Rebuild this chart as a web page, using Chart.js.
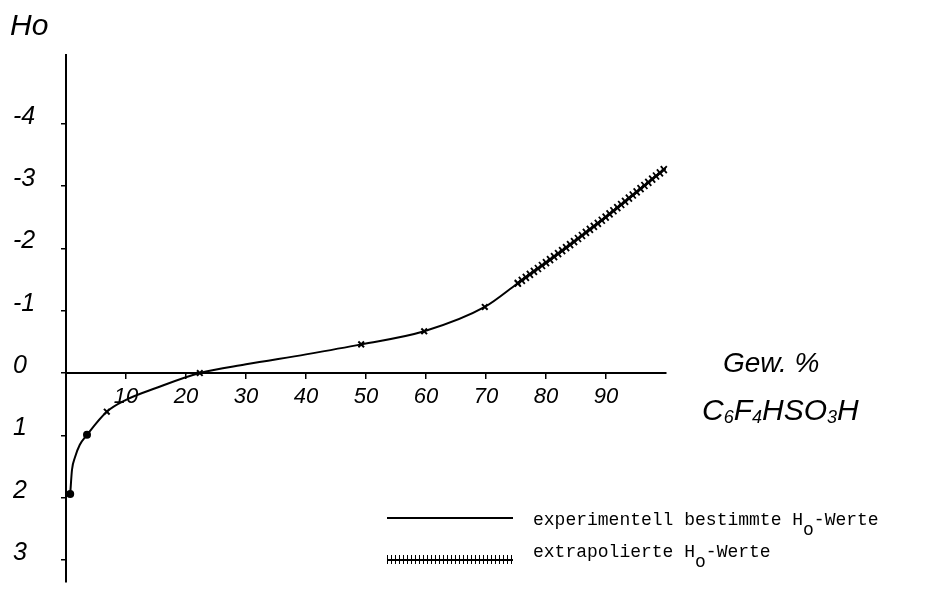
<!DOCTYPE html>
<html>
<head>
<meta charset="utf-8">
<script src="https://cdn.jsdelivr.net/npm/chart.js@4"></script>
<style>
  body { margin: 0; background: #fff; }
  #wrap { position: relative; width: 940px; height: 589px; }
  .lbl { position: absolute; font-family: "Liberation Sans", sans-serif; font-style: italic; line-height: 1; color: #000; white-space: nowrap; }
  .lbl sub { font-size: 60%; vertical-align: -0.15em; }
  .leg { position: absolute; font-family: "Liberation Mono", monospace; font-size: 18px; line-height: 1; color: #000; white-space: nowrap; }
  .leg sub { font-size: 100%; vertical-align: -0.55em; line-height: 0; }
  .sample { position: absolute; left: 387px; width: 126px; }
</style>
</head>
<body>
<div id="wrap">
  <canvas id="hoChart" width="940" height="589"></canvas>
  <div class="lbl" style="left:10px; top:10px; font-size:30px;">Ho</div>
  <div class="lbl" style="left:723px; top:349px; font-size:28px;">Gew. %</div>
  <div class="lbl" style="left:702px; top:395px; font-size:30px;">C<sub>6</sub>F<sub>4</sub>HSO<sub>3</sub>H</div>
  <div class="sample" style="top:517px; height:0; border-top:2px solid #000;"></div>
  <div class="sample" style="top:555px; height:9px; background:
      linear-gradient(#000, #000) 0 3.5px / 100% 2px no-repeat,
      repeating-linear-gradient(90deg, #000 0 1.5px, transparent 1.5px 4px);"></div>
  <div class="leg" style="left:533px; top:511px;">experimentell bestimmte H<sub>o</sub>-Werte</div>
  <div class="leg" style="left:533px; top:543px;">extrapolierte H<sub>o</sub>-Werte</div>
</div>
<script>
// experimentell bestimmte Werte (Gew.% C6F4HSO3H, Ho)
const expPct = [0.7, 1.0, 1.5, 2.3, 3.5, 6.8, 10, 15, 22.3, 30, 40, 49.2, 59.7, 69.8, 75.3];
const expHo = [1.94, 1.55, 1.35, 1.15, 0.99, 0.62, 0.43, 0.24, 0, -0.14, -0.3, -0.46, -0.67, -1.06, -1.44];
const expMark = ['circle', null, null, null, 'circle', 'crossRot', null, null, 'crossRot', null, null, 'crossRot', 'crossRot', 'crossRot', 'crossRot'];

// extrapolierte Werte
const extPct = [75.3, 82.8, 89.3, 100];
const extHo = [-1.44, -1.97, -2.45, -3.29];

const xTicks = [10, 20, 30, 40, 50, 60, 70, 80, 90];
const yTicks = [-4, -3, -2, -1, 0, 1, 2, 3];

const handFont = { family: '"Liberation Sans", sans-serif', style: 'italic' };

// little crosses along the extrapolated curve
const hatchPlugin = {
    id: 'hatch',
    afterDatasetsDraw(chart) {
        const pts = chart.getDatasetMeta(1).data;
        const ctx = chart.ctx;
        ctx.save();
        ctx.strokeStyle = '#000';
        ctx.lineWidth = 1.8;
        let carry = 0;
        for (let i = 0; i < pts.length - 1; i++) {
            const a = pts[i], b = pts[i + 1];
            const dx = b.x - a.x, dy = b.y - a.y;
            const len = Math.hypot(dx, dy);
            for (let d = carry; d <= len; d += 5) {
                const px = a.x + dx * d / len, py = a.y + dy * d / len;
                ctx.beginPath();
                ctx.moveTo(px - 3, py - 3.5); ctx.lineTo(px + 3, py + 3.5);
                ctx.moveTo(px - 3, py + 3.5); ctx.lineTo(px + 3, py - 3.5);
                ctx.stroke();
                carry = d + 5 - len;
            }
        }
        ctx.restore();
    }
};

new Chart(document.getElementById('hoChart'), {
    type: 'line',
    data: {
        datasets: [{
            data: expPct.map((x, i) => ({ x: x, y: expHo[i] })),
            borderColor: '#000',
            borderWidth: 2,
            cubicInterpolationMode: 'monotone',
            pointStyle: expMark.map(s => s || 'circle'),
            pointRadius: expMark.map(s => s ? (s === 'circle' ? 3 : 4) : 0),
            pointBackgroundColor: '#000',
            pointBorderColor: '#000',
            pointBorderWidth: 2
        }, {
            data: extPct.map((x, i) => ({ x: x, y: extHo[i] })),
            borderColor: '#000',
            borderWidth: 2.5,
            cubicInterpolationMode: 'monotone',
            pointRadius: 0
        }]
    },
    options: {
        responsive: false,
        animation: false,
        events: [],
        layout: { padding: { left: 13, right: 274, top: 55, bottom: 7 } },
        plugins: { legend: { display: false }, tooltip: { enabled: false } },
        scales: {
            x: {
                type: 'linear',
                position: { y: 0 },
                min: 0,
                max: 100,
                afterBuildTicks: s => { s.ticks = xTicks.map(v => ({ value: v })); },
                afterFit: s => { s.height = 0; s.paddingLeft = 0; s.paddingRight = 0; },
                border: { display: true, color: '#000', width: 2 },
                grid: { drawOnChartArea: false, drawTicks: true, tickLength: 5, color: '#000', lineWidth: 1.5 },
                ticks: { color: '#000', font: { ...handFont, size: 22 }, padding: 6, maxRotation: 0 }
            },
            y: {
                type: 'linear',
                reverse: true,
                min: -5.1,
                max: 3.35,
                afterBuildTicks: s => { s.ticks = yTicks.map(v => ({ value: v })); },
                afterFit: s => { s.width = 53; s.paddingTop = 0; s.paddingBottom = 0; },
                border: { display: true, color: '#000', width: 2 },
                grid: { drawOnChartArea: false, drawTicks: true, tickLength: 5, color: '#000', lineWidth: 1.5 },
                ticks: {
                    color: '#000',
                    font: { ...handFont, size: 25 },
                    crossAlign: 'far',
                    labelOffset: -7,
                    callback: v => String(v)
                }
            }
        }
    },
    plugins: [hatchPlugin]
});
</script>
</body>
</html>
